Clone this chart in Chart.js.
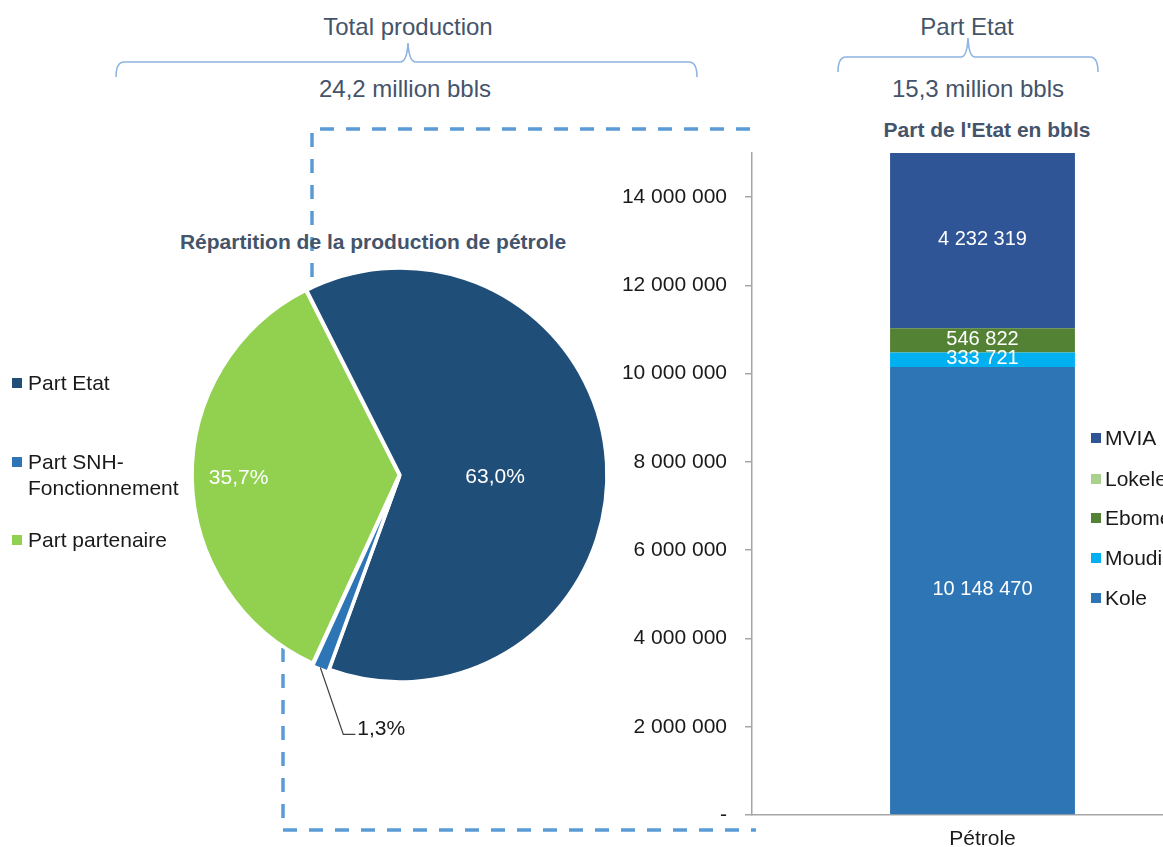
<!DOCTYPE html>
<html><head><meta charset="utf-8">
<script src="https://cdn.jsdelivr.net/npm/chart.js@4.4.1/dist/chart.umd.min.js"></script>
<style>
html,body{margin:0;padding:0;background:#fff;}
#wrap{position:relative;width:1163px;height:847px;overflow:hidden;background:#fff;font-family:"Liberation Sans",Arial,sans-serif;}
.t{position:absolute;white-space:nowrap;transform:translate(-50%,-50%);line-height:1;}
.head{font-size:24px;color:#44546A;}
.title{font-size:21px;font-weight:bold;color:#44546A;}
.leg{position:absolute;font-size:21px;color:#1a1a1a;white-space:nowrap;line-height:26px;}
.legw{white-space:normal;width:165px;}
.sw{position:absolute;width:10px;height:10px;}
canvas{position:absolute;}
svg{position:absolute;left:0;top:0;}
</style></head>
<body>
<div id="wrap">
<svg width="1163" height="847">
  <g fill="none" stroke="#8DB4E2" stroke-width="1.6">
    <path d="M116,77 Q116,62 124,62 L400,62 Q407,62 408,43 Q409,62 416,62 L689,62 Q697,62 697,77"/>
    <path d="M838,72 Q838,57 846,57 L961,57 Q967,57 968,38 Q969,57 975,57 L1090,57 Q1098,57 1098,72"/>
  </g>
  <g fill="none" stroke="#5B9BD5" stroke-width="3.5" stroke-dasharray="14 12">
    <path d="M750,129 L312,129 L312,287"/>
    <path d="M283,648 L283,830 L756,830"/>
  </g>
</svg>
<div class="t head" style="left:408px;top:27px">Total production</div>
<div class="t head" style="left:405px;top:89px">24,2 million bbls</div>
<div class="t head" style="left:967px;top:27px">Part Etat</div>
<div class="t head" style="left:978px;top:89px">15,3 million bbls</div>
<div class="t title" style="left:373px;top:241px">Répartition de la production de pétrole</div>
<div class="t title" style="left:987px;top:129px">Part de l'Etat en bbls</div>
<canvas id="pie" width="460" height="530" style="left:170px;top:245px"></canvas>
<canvas id="bar" width="640" height="717" style="left:600px;top:130px"></canvas>
<div id="pieLegend"></div>
<div id="barLegend"></div>
</div>
<script>
// ---- data ----
const pieLabels = ['Part Etat', 'Part SNH-Fonctionnement', 'Part partenaire'];
const pieValues = [63.0, 1.3, 35.7];
const pieColors = ['#1F4E79', '#2E75B6', '#92D050'];

const barCategories = ['Pétrole'];
const koleValues = [10148470];
const moudiValues = [333721];
const ebomeValues = [546822];
const lokeleValues = [0];
const mviaValues = [4232319];
const barSeriesNames = ['Kole', 'Moudi', 'Ebome', 'Lokele', 'MVIA'];
const barSeriesColors = ['#2E75B6', '#00B0F0', '#548235', '#A9D18E', '#2F5597'];
const yMax = 15000000;
const yTicks = [0, 2000000, 4000000, 6000000, 8000000, 10000000, 12000000, 14000000];

const FONT = '"Liberation Sans", Arial, sans-serif';
const fmtNum = v => String(Math.round(v)).replace(/\B(?=(\d{3})+(?!\d))/g, ' ');
const fmtPct = v => v.toFixed(1).replace('.', ',') + '%';

// ---- legends (HTML) ----
const pl = document.getElementById('pieLegend');
const pieLegTops = [370, 449, 527];
pieLabels.forEach((l, i) => {
  const sw = document.createElement('div');
  sw.className = 'sw'; sw.style.left = '12px'; sw.style.top = (pieLegTops[i] + 8) + 'px';
  sw.style.background = pieColors[i];
  const tx = document.createElement('div');
  tx.className = 'leg legw'; tx.style.left = '28px'; tx.style.top = pieLegTops[i] + 'px';
  tx.textContent = l;
  pl.appendChild(sw); pl.appendChild(tx);
});
const bl = document.getElementById('barLegend');
const barLegCenters = [438, 479, 518, 558, 598];
[...barSeriesNames].reverse().forEach((n, k) => {
  const i = barSeriesNames.length - 1 - k;
  const sw = document.createElement('div');
  sw.className = 'sw'; sw.style.left = '1091px'; sw.style.top = (barLegCenters[k] - 5) + 'px';
  sw.style.background = barSeriesColors[i];
  const tx = document.createElement('div');
  tx.className = 'leg'; tx.style.left = '1105px'; tx.style.top = (barLegCenters[k] - 13) + 'px';
  tx.textContent = n;
  bl.appendChild(sw); bl.appendChild(tx);
});

// ---- pie ----
const pieLabelPlugin = {
  id: 'pieLabels',
  afterDatasetsDraw(chart) {
    const ctx = chart.ctx;
    const arcs = chart.getDatasetMeta(0).data;
    ctx.save();
    ctx.font = '21px ' + FONT;
    ctx.textBaseline = 'middle';
    arcs.forEach((a, i) => {
      const mid = (a.startAngle + a.endAngle) / 2;
      const v = pieValues[i];
      if (i === 1) {
        const px = a.x + a.outerRadius * Math.cos(mid);
        const py = a.y + a.outerRadius * Math.sin(mid);
        ctx.strokeStyle = '#404040'; ctx.lineWidth = 1.2;
        ctx.beginPath(); ctx.moveTo(px - 1, py + 1); ctx.lineTo(px + 22, py + 68); ctx.lineTo(px + 34, py + 68); ctx.stroke();
        ctx.fillStyle = '#1a1a1a'; ctx.textAlign = 'left';
        ctx.fillText(fmtPct(v), px + 36, py + 63);
      } else {
        const f = i === 0 ? 0.46 : 0.78;
        const dy = i === 0 ? 8 : 0;
        ctx.fillStyle = '#ffffff'; ctx.textAlign = 'center';
        ctx.fillText(fmtPct(v), a.x + a.outerRadius * f * Math.cos(mid), a.y + a.outerRadius * f * Math.sin(mid) + dy);
      }
    });
    ctx.restore();
  }
};
new Chart(document.getElementById('pie'), {
  type: 'pie',
  data: { labels: pieLabels, datasets: [{ data: pieValues, backgroundColor: pieColors, borderColor: '#ffffff', borderWidth: 3.5, offset: [0, 6, 3] }] },
  options: {
    responsive: false, animation: false, rotation: -26.8, radius: 207,
    layout: { padding: { top: 0, left: 0, right: 0, bottom: 70 } },
    plugins: { legend: { display: false }, tooltip: { enabled: false } }
  },
  plugins: [pieLabelPlugin]
});

// ---- stacked bar ----
const barValueArrays = [koleValues, moudiValues, ebomeValues, lokeleValues, mviaValues];
const barLabelPlugin = {
  id: 'barLabels',
  afterDatasetsDraw(chart) {
    const ctx = chart.ctx, area = chart.chartArea;
    ctx.save();
    ctx.font = '20px ' + FONT; ctx.fillStyle = '#ffffff';
    ctx.textAlign = 'center'; ctx.textBaseline = 'middle';
    chart.data.datasets.forEach((ds, i) => {
      const meta = chart.getDatasetMeta(i);
      meta.data.forEach((b, j) => {
        const v = ds.data[j];
        if (!v) return;
        const top = Math.max(b.y, area.top), bot = Math.min(b.base, area.bottom);
        ctx.fillText(fmtNum(v), b.x, (top + bot) / 2 - 1);
      });
    });
    ctx.restore();
  }
};
new Chart(document.getElementById('bar'), {
  type: 'bar',
  data: {
    labels: barCategories,
    datasets: barSeriesNames.map((n, i) => ({
      label: n, data: barValueArrays[i], backgroundColor: barSeriesColors[i],
      borderWidth: 0, barPercentage: 0.401, categoryPercentage: 1, clip: 0
    }))
  },
  options: {
    responsive: false, animation: false,
    layout: { padding: { top: 23, right: 27, left: 0, bottom: 0 } },
    plugins: { legend: { display: false }, tooltip: { enabled: false } },
    scales: {
      x: {
        stacked: true,
        grid: { display: true, drawOnChartArea: false, drawTicks: false },
        border: { display: true, color: '#a6a6a6', width: 1.5 },
        ticks: { font: { family: FONT, size: 21 }, color: '#1a1a1a', padding: 12 },
        afterFit(s) { s.height = 32; s.paddingLeft = 0; s.paddingRight = 0; }
      },
      y: {
        stacked: true, min: 0, max: yMax,
        grid: { drawOnChartArea: false, drawTicks: true, tickLength: 7, color: '#a6a6a6', lineWidth: 1.5 },
        border: { display: true, color: '#a6a6a6', width: 1.5 },
        ticks: { padding: 18, font: { family: FONT, size: 21 }, color: '#1a1a1a',
          callback: v => v === 0 ? '-' : fmtNum(v) },
        afterBuildTicks(s) { s.ticks = yTicks.map(v => ({ value: v })); },
        afterFit(s) { s.width = 152; s.paddingTop = 0; s.paddingBottom = 0; }
      }
    }
  },
  plugins: [barLabelPlugin]
});
</script>
</body></html>
